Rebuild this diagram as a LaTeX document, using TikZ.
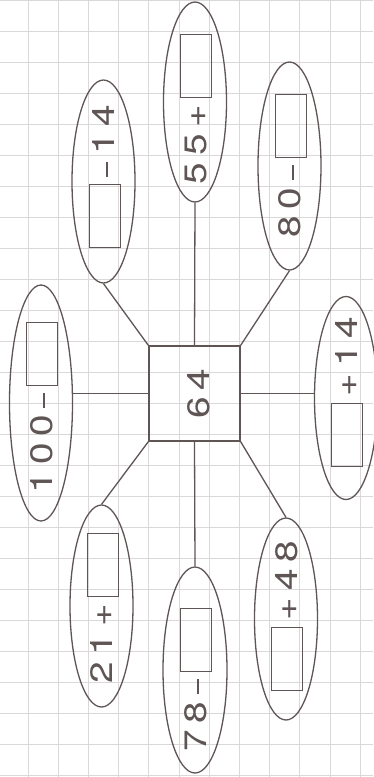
\documentclass[tikz,border=0pt]{standalone}
\usepackage{fontspec}
\setmainfont{TeX Gyre Heros}
\newfontfamily\wfont[FakeStretch=1.25]{TeX Gyre Heros}
\usetikzlibrary{shapes.geometric}
\definecolor{ink}{RGB}{95,85,85}
\definecolor{gridc}{RGB}{218,216,216}
\newcommand\gp{\hspace{7pt}}
\newcommand\bx{\raisebox{-5pt}{\setlength\fboxsep{0pt}\setlength\fboxrule{1pt}\fbox{\rule{0pt}{30pt}\rule{62pt}{0pt}}}}
\newcommand\mn{\rule[7pt]{15pt}{1.7pt}}
\newcommand\ct[3][-11pt]{\makebox[0pt]{\hspace{#2}\smash{\raisebox{#1}{\wfont\fontsize{31pt}{31pt}\selectfont #3}}}}
\tikzset{
  ell/.style={ellipse, draw=ink, line width=1.3pt, rotate=90, inner sep=0pt, text=ink},
  ctr/.style={draw=ink, line width=1.3pt, inner sep=0pt, text=ink, minimum width=91pt, minimum height=95pt},
  conn/.style={draw=ink, line width=1.3pt},
  gridline/.style={draw=gridc, line width=0.7pt}
}
\begin{document}
\begin{tikzpicture}[x=1pt,y=-1pt]
\fill[white] (0,0) rectangle (373,777);
\useasboundingbox (0,0) rectangle (373,777);
\foreach \i in {0,...,11} \draw[gridline] ({28+30.2*\i},0) -- ({28+30.2*\i},777);
\foreach \j in {0,...,25} \draw[gridline] (0,{31*\j}) -- (373,{31*\j});

\node[ctr] (sq) at (194.5,393.5) {\rotatebox{90}{\ct[-15pt]{0pt}{6\gp4}}};

\node[ell, minimum width=236pt, minimum height=63pt] (e100) at (41,403) {\ct{-9pt}{1\gp0\gp0\gp\mn\gp\bx}};
\node[ell, minimum width=203pt, minimum height=63pt] (e14r) at (346,398) {\ct{12pt}{\bx\gp+\gp1\gp4}};
\node[ell, minimum width=200pt, minimum height=63pt] (e55) at (195,102) {\ct{-14pt}{5\gp5\gp+\gp\bx}};
\node[ell, minimum width=203pt, minimum height=63pt] (em14) at (103.5,181.5) {\ct{11pt}{\bx\gp\mn\gp1\gp4}};
\node[ell, minimum width=208pt, minimum height=63pt] (e80) at (289.5,166) {\ct{0pt}{8\gp0\gp\mn\gp\bx}};
\node[ell, minimum width=202pt, minimum height=63pt] (e21) at (101.5,606) {\ct{-5pt}{2\gp1\gp+\gp\bx}};
\node[ell, minimum width=206pt, minimum height=64pt] (e78) at (195,670) {\ct{-20pt}{7\gp8\gp\mn\gp\bx}};
\node[ell, minimum width=202pt, minimum height=63pt] (e48) at (286,619) {\ct{6pt}{\bx\gp+\gp4\gp8}};

\draw[conn] (sq.north) -- (e55.west);
\draw[conn] (sq.south) -- (e78.east);
\draw[conn] (sq.west) -- (sq.west -| e100.south);
\draw[conn] (sq.east) -- (sq.east -| e14r.north);
\draw[conn] (sq.north west) -- (em14.west);
\draw[conn] (sq.north east) -- (e80.west);
\draw[conn] (sq.south west) -- (e21.east);
\draw[conn] (sq.south east) -- (e48.east);
\end{tikzpicture}
\end{document}
